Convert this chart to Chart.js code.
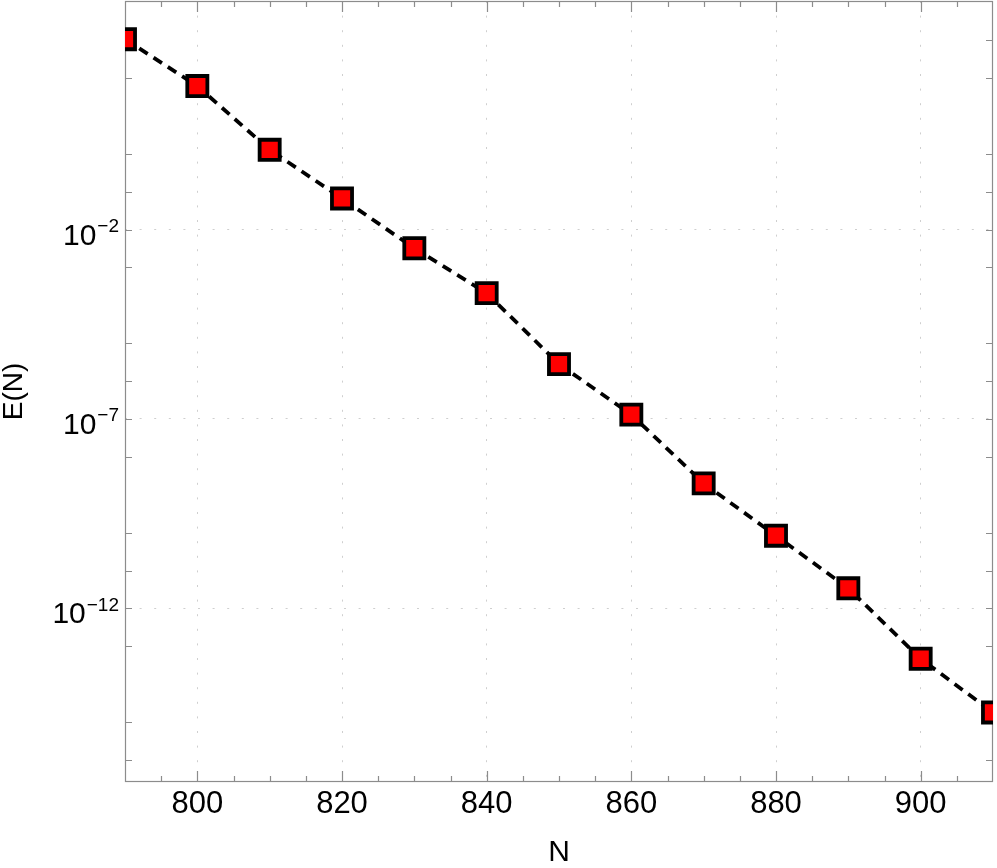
<!DOCTYPE html>
<html>
<head>
<meta charset="utf-8">
<title>E(N) vs N</title>
<script src="https://cdn.jsdelivr.net/npm/chart.js@4/dist/chart.umd.min.js"></script>
<style>
  html, body { margin: 0; padding: 0; background: #fff; }
  canvas { display: block; }
</style>
</head>
<body>
<canvas id="chart" width="997" height="868"></canvas>
<script>
const FONT = '"Liberation Sans", Arial, sans-serif';
const FRAME_COLOR = "#8c8c8c";
const GRID_COLOR = "#cfcfcf";

// values
const nValues = [790, 800, 810, 820, 830, 840, 850, 860, 870, 880, 890, 900, 910];
const errorValues = [1.05e3, 61, 1.27, 0.066, 3.2e-3, 2.1e-4, 2.8e-6, 1.3e-7, 2.0e-9, 8.3e-11, 3.4e-12, 4.7e-14, 1.8e-15];

const xLabelTicks = [800, 820, 840, 860, 880, 900];
const yLabelExponents = [-2, -7, -12];
const yMinorExponents = [3, 2, 0, -1, -3, -5, -6, -8, -10, -11, -13, -15, -16];

const X_MIN = 790;
const X_MAX = 910;
const Y_MIN = Math.pow(10, -16.58);
const Y_MAX = Math.pow(10, 4.03);

function noEdgePadding(scale) {
  scale.paddingLeft = 0;
  scale.paddingRight = 0;
  scale.paddingTop = 0;
  scale.paddingBottom = 0;
}

// inward ticks on all four sides plus the box frame
const frameTicks = {
  id: "frameTicks",
  beforeDatasetsDraw(chart) {
    const { ctx, chartArea } = chart;
    const { left, right, top, bottom } = chartArea;
    const xs = chart.scales.x;
    const ys = chart.scales.y;
    ctx.save();
    ctx.strokeStyle = FRAME_COLOR;
    ctx.lineWidth = 1.2;
    ctx.beginPath();
    for (let v = X_MIN + 5; v < X_MAX; v += 5) {
      const px = Math.round(xs.getPixelForValue(v)) + 0.5;
      const len = v % 20 === 0 ? 11 : 6;
      ctx.moveTo(px, bottom);
      ctx.lineTo(px, bottom - len);
      ctx.moveTo(px, top);
      ctx.lineTo(px, top + len);
    }
    yLabelExponents.concat(yMinorExponents).forEach((e) => {
      const py = Math.round(ys.getPixelForValue(Math.pow(10, e))) + 0.5;
      ctx.moveTo(left, py);
      ctx.lineTo(left + 7, py);
      ctx.moveTo(right, py);
      ctx.lineTo(right - 7, py);
    });
    ctx.stroke();
    ctx.strokeRect(left + 0.5, top + 0.5, right - left - 1, bottom - top - 1);
    ctx.restore();
  },
  afterDraw(chart) {
    const { ctx, chartArea } = chart;
    const ys = chart.scales.y;
    const xr = chartArea.left - 6;
    ctx.save();
    ctx.fillStyle = "#000";
    ctx.textBaseline = "alphabetic";
    yLabelExponents.forEach((e) => {
      const py = ys.getPixelForValue(Math.pow(10, e));
      const sup = "\u2212" + Math.abs(e);
      ctx.font = `19px ${FONT}`;
      const supW = ctx.measureText(sup).width;
      ctx.textAlign = "left";
      ctx.fillText(sup, xr - supW, py + 2.5);
      ctx.font = `30px ${FONT}`;
      ctx.textAlign = "right";
      ctx.fillText("10", xr - supW - 1, py + 15);
    });
    ctx.restore();
  },
};

const chart = new Chart(document.getElementById("chart"), {
  type: "line",
  data: {
    datasets: [
      {
        data: nValues.map((n, i) => ({ x: n, y: errorValues[i] })),
        borderColor: "#000",
        borderWidth: 3.8,
        borderDash: [10, 7],
        tension: 0,
        fill: false,
        clip: 0,
        pointStyle: "rect",
        pointRadius: 14.2,
        pointHoverRadius: 14.2,
        pointBackgroundColor: "#ff0000",
        pointBorderColor: "#000",
        pointBorderWidth: 3.8,
      },
    ],
  },
  options: {
    responsive: false,
    animation: false,
    devicePixelRatio: 1,
    layout: { autoPadding: false, padding: { top: 1, right: 4, left: 0, bottom: 0 } },
    plugins: { legend: { display: false }, tooltip: { enabled: false } },
    scales: {
      x: {
        type: "linear",
        min: X_MIN,
        max: X_MAX,
        afterBuildTicks(scale) {
          scale.ticks = xLabelTicks.map((v) => ({ value: v }));
        },
        afterFit(scale) {
          scale.height = 86;
          noEdgePadding(scale);
        },
        grid: { color: GRID_COLOR, lineWidth: 1, drawTicks: false },
        border: { display: false, dash: [2, 12.6] },
        ticks: { color: "#000", padding: 4, maxRotation: 0, font: { family: FONT, size: 31 } },
        title: {
          display: true,
          text: "N",
          color: "#000",
          padding: 0,
          font: { family: FONT, size: 30, lineHeight: 1 },
        },
      },
      y: {
        type: "logarithmic",
        min: Y_MIN,
        max: Y_MAX,
        afterBuildTicks(scale) {
          scale.ticks = yLabelExponents.map((e) => ({ value: Math.pow(10, e) }));
        },
        afterFit(scale) {
          scale.width = 125;
          noEdgePadding(scale);
        },
        grid: { color: GRID_COLOR, lineWidth: 1, drawTicks: false },
        border: { display: false, dash: [2, 12.6] },
        ticks: { display: false },
        title: {
          display: true,
          text: "E(N)",
          color: "#000",
          padding: 0,
          font: { family: FONT, size: 28, lineHeight: 1 },
        },
      },
    },
  },
  plugins: [frameTicks],
});
</script>
</body>
</html>
